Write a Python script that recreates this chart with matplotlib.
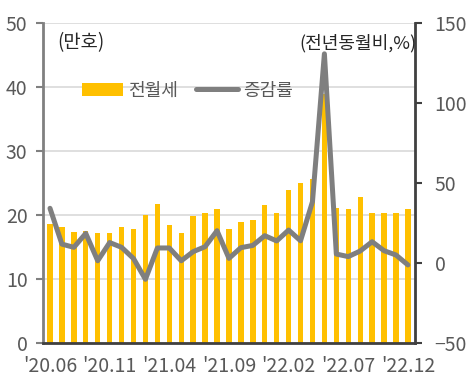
import matplotlib.pyplot as plt
import numpy as np

plt.rcParams['font.family'] = ['Noto Sans CJK KR', 'DejaVu Sans']

# 2020.06 ~ 2022.12, monthly
months = ["'20.06", "'20.07", "'20.08", "'20.09", "'20.10", "'20.11", "'20.12",
          "'21.01", "'21.02", "'21.03", "'21.04", "'21.05", "'21.06", "'21.07",
          "'21.08", "'21.09", "'21.10", "'21.11", "'21.12", "'22.01", "'22.02",
          "'22.03", "'22.04", "'22.05", "'22.06", "'22.07", "'22.08", "'22.09",
          "'22.10", "'22.11", "'22.12"]
rent = [18.7, 18.2, 17.4, 17.5, 17.3, 17.3, 18.2, 17.9, 20.0, 21.8, 18.5,
        17.3, 19.9, 20.3, 21.0, 17.9, 19.0, 19.3, 21.6, 20.4, 24.0, 25.0,
        25.7, 38.9, 21.2, 21.0, 22.8, 20.4, 20.4, 20.3, 21.0]
yoy = [34.4, 12.0, 10.0, 18.7, 1.6, 13.0, 10.0, 3.0, -10.0, 9.6, 9.6,
       1.6, 7.3, 10.4, 20.4, 3.1, 9.8, 11.2, 17.3, 14.0, 20.8, 14.1,
       38.5, 131.0, 5.8, 4.2, 7.7, 13.5, 7.9, 5.2, -1.0]

bar_color = '#FFC000'
line_color = '#7F7F7F'
text_gray = '#595959'

x = np.arange(len(months))

fig = plt.figure(figsize=(4.76, 3.84), dpi=100)
ax = fig.add_axes([0.090, 0.106, 0.782, 0.833])
ax2 = ax.twinx()

ax.bar(x, rent, width=0.45, color=bar_color, label='전월세', zorder=2)
ax2.plot(x, yoy, color=line_color, linewidth=3.6, label='증감률',
         solid_capstyle='round', zorder=3)

ax.set_ylim(0, 50)
ax.set_yticks([0, 10, 20, 30, 40, 50])
ax2.set_ylim(-50, 150)
ax2.set_yticks([-50, 0, 50, 100, 150])
ax.set_xlim(-0.6, len(months) - 0.4)

ax.set_xticks(x[::5])
ax.set_xticklabels(months[::5])

ax.grid(axis='y', color='#D9D9D9', linewidth=1.2, zorder=0)
ax.set_axisbelow(True)

for a in (ax, ax2):
    a.tick_params(axis='both', labelsize=14, colors=text_gray, length=5, width=1.5)
    a.spines['top'].set_visible(False)
ax.tick_params(axis='x', length=0, pad=9)
ax.tick_params(axis='y', pad=6)
ax2.tick_params(axis='y', pad=9)
ax.spines['left'].set_color('#808080')
ax.spines['left'].set_linewidth(2)
ax.spines['bottom'].set_color('#404040')
ax.spines['bottom'].set_linewidth(2)
ax.spines['right'].set_visible(False)
ax2.spines['left'].set_visible(False)
ax2.spines['bottom'].set_visible(False)
ax2.spines['right'].set_color('#404040')
ax2.spines['right'].set_linewidth(2)
ax.tick_params(axis='y', color='#808080')
ax2.tick_params(axis='y', color='#404040')

fig.text(0.120, 0.888, '(만호)', fontsize=13.5, color='#262626', va='center')
fig.text(0.874, 0.888, '(전년동월비,%)', fontsize=13, color='#262626',
         va='center', ha='right')

h1, l1 = ax.get_legend_handles_labels()
h2, l2 = ax2.get_legend_handles_labels()
leg = ax.legend(h1 + h2, l1 + l2, loc='center left', bbox_to_anchor=(0.104, 0.79),
                ncol=2, frameon=False, fontsize=13, handlelength=2.3,
                handletextpad=0.3, columnspacing=1.0, borderpad=0, borderaxespad=0)
for t in leg.get_texts():
    t.set_color(text_gray)

fig.savefig('out.png', dpi=100)
